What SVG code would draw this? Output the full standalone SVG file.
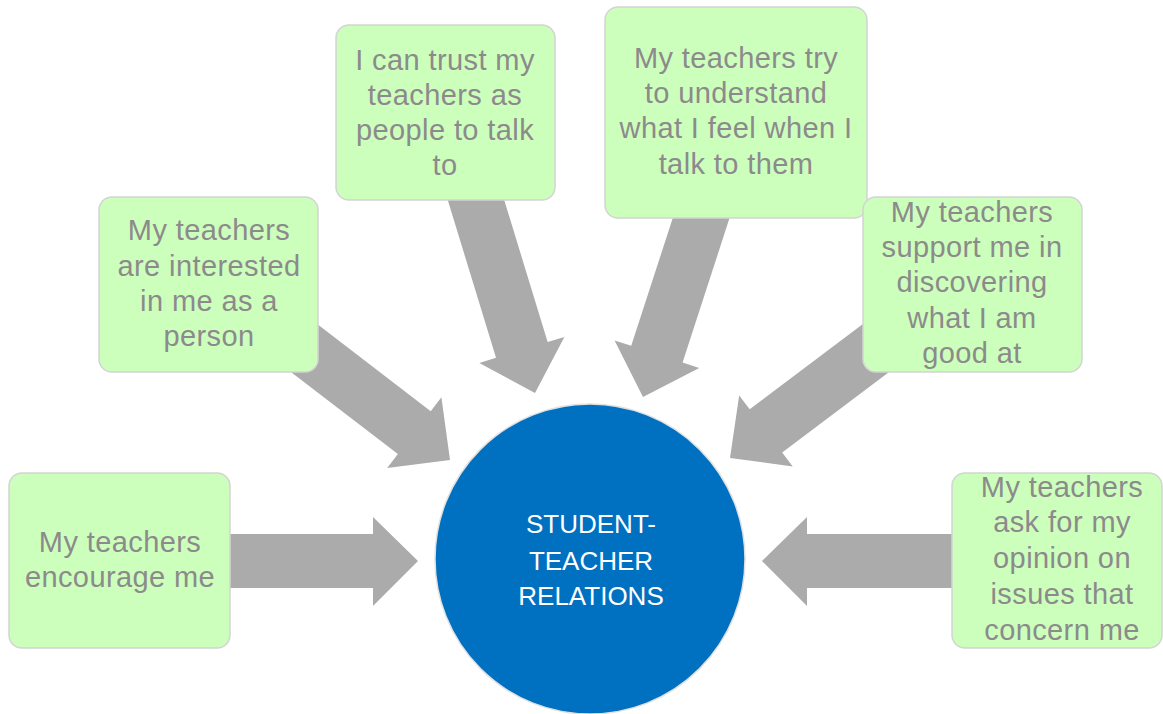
<svg xmlns="http://www.w3.org/2000/svg" width="1163" height="714" viewBox="0 0 1163 714">
  <style>
    .box { fill: #CCFFBB; stroke: #D4D4D4; stroke-width: 1.5; }
    .lbl { font-family: "Liberation Sans", Arial, sans-serif; font-size: 29px; letter-spacing: 0.4px; fill: #8C8A8C; text-anchor: middle; }
    .hub { fill: #0070C0; stroke: #E0E0E0; stroke-width: 1.5; }
    .hubtxt { font-family: "Liberation Sans", Arial, sans-serif; font-size: 26px; fill: #FFFFFF; text-anchor: middle; }
    .arrow { fill: #ABABAB; }
  </style>
  <defs>
    <!-- block arrow pointing along +x, tip at origin -->
    <polygon id="blk" points="-230,-27 -45,-27 -45,-44.5 0,0 -45,44.5 -45,27 -230,27"/>
  </defs>
  <rect width="1163" height="714" fill="#FFFFFF"/>

  <g id="connectors" class="arrow">
    <polygon points="200,534 373,534 373,517 418,561 373,606 373,588 200,588"/>
    <use href="#blk" transform="translate(450,460) rotate(37.5)"/>
    <use href="#blk" transform="translate(535,393) rotate(73)"/>
    <use href="#blk" transform="translate(643,397) rotate(108)"/>
    <use href="#blk" transform="translate(730,458) rotate(143)"/>
    <polygon points="990,534 807,534 807,517 762,561 807,606 807,588 990,588"/>
  </g>

  <g id="hub">
    <circle class="hub" cx="590" cy="559" r="155"/>
    <text class="hubtxt" x="591" y="533">STUDENT-</text>
    <text class="hubtxt" x="591" y="570">TEACHER</text>
    <text class="hubtxt" x="591" y="605">RELATIONS</text>
  </g>

  <g id="node-encourage">
    <rect class="box" x="9" y="473" width="221" height="175" rx="13"/>
    <text class="lbl" x="120" y="552">My teachers</text>
    <text class="lbl" x="120" y="587">encourage me</text>
  </g>

  <g id="node-interested">
    <rect class="box" x="99" y="197" width="219" height="175" rx="13"/>
    <text class="lbl" x="209" y="240">My teachers</text>
    <text class="lbl" x="209" y="276">are interested</text>
    <text class="lbl" x="209" y="311">in me as a</text>
    <text class="lbl" x="209" y="346">person</text>
  </g>

  <g id="node-trust">
    <rect class="box" x="336" y="25" width="219" height="175" rx="13"/>
    <text class="lbl" x="445" y="70">I can trust my</text>
    <text class="lbl" x="445" y="105">teachers as</text>
    <text class="lbl" x="445" y="140">people to talk</text>
    <text class="lbl" x="445" y="175">to</text>
  </g>

  <g id="node-understand">
    <rect class="box" x="605" y="7" width="262" height="211" rx="13"/>
    <text class="lbl" x="736" y="68">My teachers try</text>
    <text class="lbl" x="736" y="103">to understand</text>
    <text class="lbl" x="736" y="138">what I feel when I</text>
    <text class="lbl" x="736" y="174">talk to them</text>
  </g>

  <g id="node-support">
    <rect class="box" x="863" y="197" width="219" height="175" rx="13"/>
    <text class="lbl" x="972" y="222">My teachers</text>
    <text class="lbl" x="972" y="257">support me in</text>
    <text class="lbl" x="972" y="292">discovering</text>
    <text class="lbl" x="972" y="328">what I am</text>
    <text class="lbl" x="972" y="363">good at</text>
  </g>

  <g id="node-opinion">
    <rect class="box" x="952" y="473" width="210" height="175" rx="13"/>
    <text class="lbl" x="1062" y="497">My teachers</text>
    <text class="lbl" x="1062" y="532">ask for my</text>
    <text class="lbl" x="1062" y="568">opinion on</text>
    <text class="lbl" x="1062" y="604">issues that</text>
    <text class="lbl" x="1062" y="640">concern me</text>
  </g>
</svg>
